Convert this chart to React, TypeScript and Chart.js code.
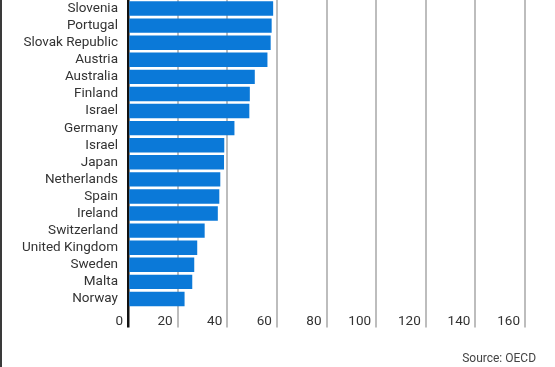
import React, { useEffect, useRef } from "react";
import { Chart, registerables } from "chart.js";

Chart.register(...registerables);

const countries = [
  "Slovenia",
  "Portugal",
  "Slovak Republic",
  "Austria",
  "Australia",
  "Finland",
  "Israel",
  "Germany",
  "Israel",
  "Japan",
  "Netherlands",
  "Spain",
  "Ireland",
  "Switzerland",
  "United Kingdom",
  "Sweden",
  "Malta",
  "Norway",
];

const values = [
  58.5, 57.9, 57.5, 56.2, 51.1, 49.1, 48.9, 42.9, 38.8, 38.7, 37.2, 36.8, 36.2,
  30.9, 27.9, 26.7, 25.9, 22.8,
];

const xTickValues = [0, 20, 40, 60, 80, 100, 120, 140, 160];

const sourceText = "Source: OECD";

export default function App() {
  const canvasRef = useRef<HTMLCanvasElement | null>(null);

  useEffect(() => {
    if (!canvasRef.current) return;
    const chart = new Chart(canvasRef.current, {
      type: "bar",
      data: {
        labels: countries,
        datasets: [
          {
            data: values,
            backgroundColor: "#0b79d8",
            borderWidth: 0,
            barPercentage: 0.84,
            categoryPercentage: 1,
          },
        ],
      },
      options: {
        indexAxis: "y",
        animation: false,
        responsive: false,
        maintainAspectRatio: false,
        layout: { padding: { top: 0, right: 30, bottom: 38, left: 0 } },
        plugins: {
          legend: { display: false },
          tooltip: { enabled: false },
          title: { display: false },
        },
        scales: {
          x: {
            type: "linear",
            min: xTickValues[0],
            max: xTickValues[xTickValues.length - 1],
            afterFit: (scale: any) => {
              scale.height = 21.5;
              scale.paddingLeft = 0;
              scale.paddingRight = 0;
            },
            grid: {
              color: (ctx: any) => (ctx.tick && ctx.tick.value === 0 ? "#111111" : "#bdbdbd"),
              lineWidth: (ctx: any) => (ctx.tick && ctx.tick.value === 0 ? 2.5 : 2),
              tickLength: 20,
              drawTicks: true,
            },
            border: { display: false },
            ticks: {
              stepSize: xTickValues[1] - xTickValues[0],
              align: "end",
              labelOffset: -5,
              padding: -14,
              color: "#333333",
              font: { family: "Roboto", size: 13.5 },
              maxRotation: 0,
              autoSkip: false,
            },
          },
          y: {
            grid: { display: false, drawTicks: true, tickLength: 10 },
            border: { display: false },
            afterFit: (scale: any) => {
              scale.width = 128;
              scale.paddingTop = 0;
              scale.paddingBottom = 0;
            },
            ticks: {
              padding: 0,
              color: "#333333",
              font: { family: "Roboto", size: 13.5 },
              autoSkip: false,
            },
          },
        },
      },
    });
    return () => chart.destroy();
  }, []);

  return (
    <div
      style={{
        position: "fixed",
        left: 0,
        top: 0,
        width: 555,
        height: 367,
        background: "#ffffff",
        overflow: "hidden",
      }}
    >
      <canvas
        ref={canvasRef}
        width={555}
        height={367}
        style={{ position: "absolute", left: 0, top: 0, width: 555, height: 367 }}
      />
      <div
        style={{
          position: "absolute",
          left: 0,
          top: 0,
          width: 2,
          height: 367,
          background: "#3a3a3a",
        }}
      />
      <div
        style={{
          position: "absolute",
          right: 19,
          top: 350,
          fontFamily: "Roboto",
          fontSize: 12,
          color: "#444444",
          lineHeight: "16px",
          whiteSpace: "nowrap",
        }}
      >
        {sourceText}
      </div>
    </div>
  );
}
